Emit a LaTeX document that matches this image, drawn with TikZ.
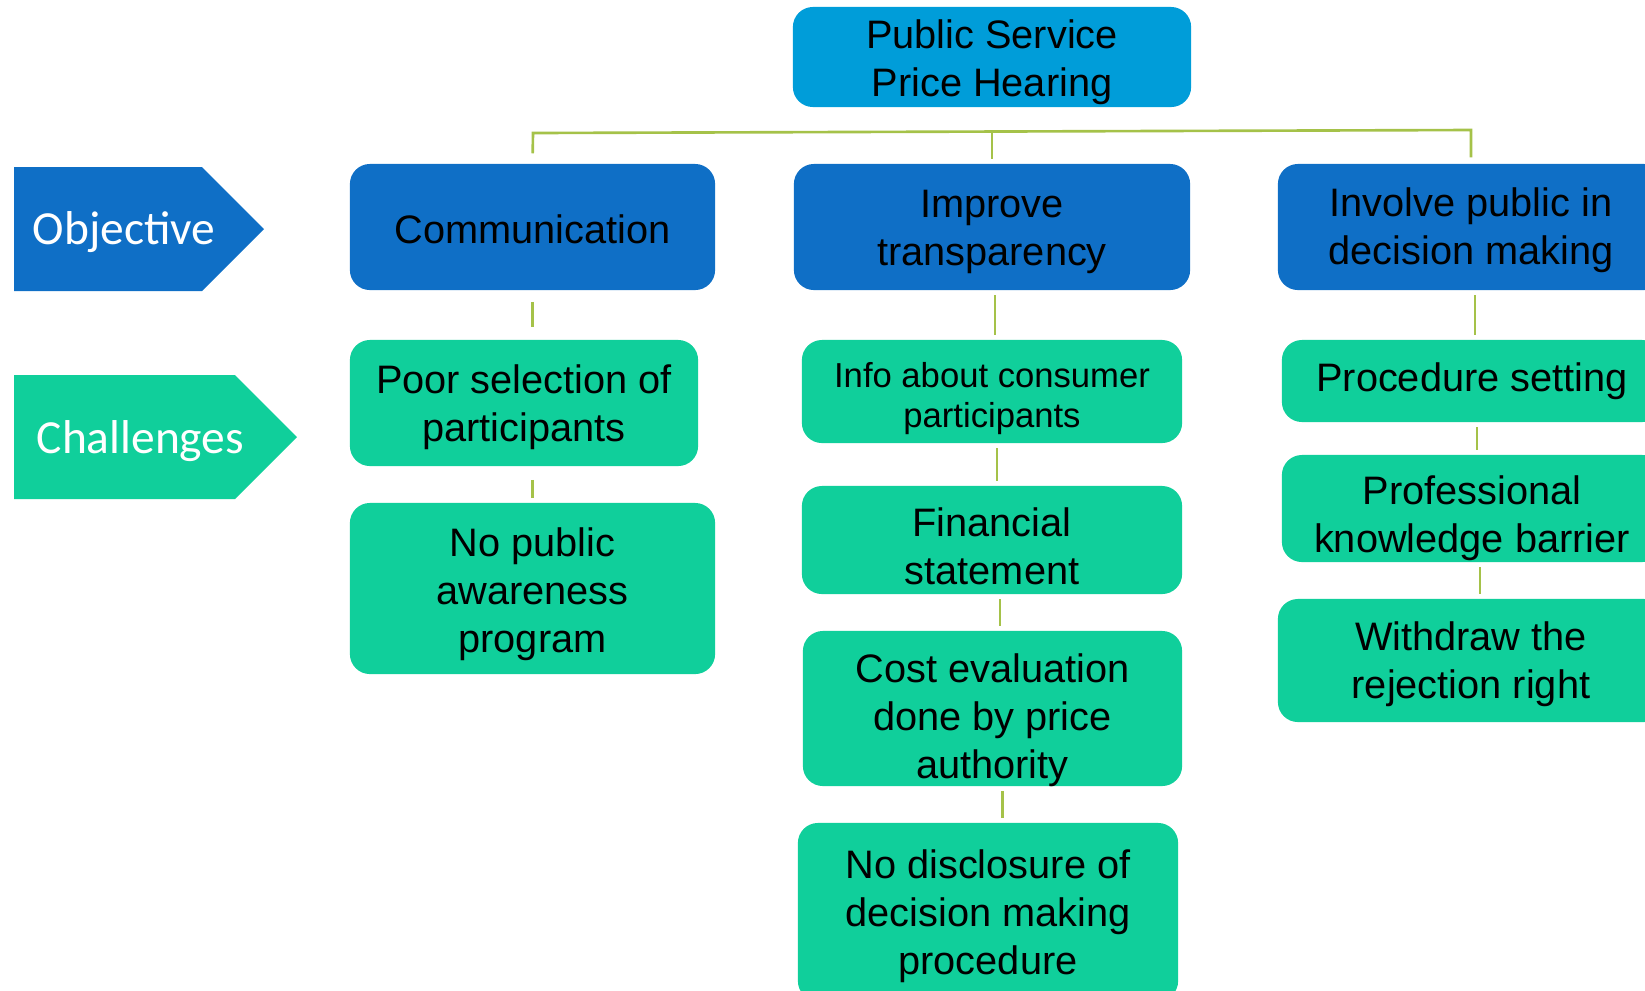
\documentclass[tikz,border=0pt]{standalone}
\usepackage{fontspec}
\setmainfont{Liberation Sans}
\newfontfamily\calibfont{Carlito}
\definecolor{objblue}{HTML}{0F6FC6}
\definecolor{topblue}{HTML}{009DD9}
\definecolor{chgreen}{HTML}{10CF9B}
\definecolor{linkgreen}{HTML}{A5C249}
\tikzset{
  box/.style={rounded corners=0.2cm, inner sep=0pt},
  goalbox/.style={box, fill=objblue},
  issuebox/.style={box, fill=chgreen},
  dim/.style 2 args={minimum width=#1cm, minimum height=#2cm},
  lbl/.style={align=center, text=black, inner sep=0pt, font=\fontsize{11.3}{13.6}\selectfont},
  txt/.style 2 args={label={[lbl, yshift=-#1cm]center:#2}},
  link/.style={draw=linkgreen, line width=0.75pt, shorten <=0.045cm, shorten >=0.045cm},
  tag/.style={text=white, font=\calibfont\fontsize{13.5}{16}\selectfont, anchor=base west, inner sep=0pt}
}
\begin{document}
\begin{tikzpicture}[x=0.01cm, y=-0.01cm]
    \clip (0,0) rectangle (1645,990);
    % row labels
    \fill[objblue] (14,167) -- (202,167) -- (264,229) -- (202,291) -- (14,291) -- cycle;
    \node[tag] (obj) at (32,244) {Objective};
    \fill[chgreen] (14,375) -- (235,375) -- (297,437) -- (235,499) -- (14,499) -- cycle;
    \node[tag] (chal) at (36,453) {Challenges};
    % title
    \node[box, fill=topblue, dim={3.98}{1.00}, txt={0.05}{Public Service\\Price Hearing}] (top) at (992,57) {};
    % objectives
    \node[goalbox, dim={3.65}{1.26}, txt={0.02}{Communication}] (comm) at (532.5,227) {};
    \node[goalbox, dim={3.96}{1.26}, txt={0.05}{Improve\\transparency}] (impr) at (992,227) {};
    \node[goalbox, dim={3.86}{1.26}, txt={0.03}{Involve public in\\decision making}] (invo) at (1471,227) {};
    % challenges
    \node[issuebox, dim={3.48}{1.26}, txt={0.04}{Poor selection of\\participants}] (poor) at (524,403) {};
    \node[issuebox, dim={3.65}{1.71}, txt={0.06}{No public\\awareness\\program}] (nopub) at (532.5,588.5) {};
    \node[issuebox, dim={3.80}{1.03}, label={[lbl, font=\fontsize{9.85}{11.6}\selectfont, yshift=-0.07cm]center:Info about consumer\\participants}] (info) at (992,391.5) {};
    \node[issuebox, dim={3.80}{1.08}, txt={0.06}{Financial\\statement}] (fin) at (992,540) {};
    \node[issuebox, dim={3.79}{1.55}, txt={0.12}{Cost evaluation\\done by price\\authority}] (cost) at (992.5,708.5) {};
    \node[issuebox, dim={3.80}{1.78}, txt={0.04}{No disclosure of\\decision making\\procedure}] (nodis) at (988,912) {};
    \node[issuebox, dim={3.80}{0.82}, txt={0.00}{Procedure setting}] (proc) at (1472,381) {};
    \node[issuebox, dim={3.80}{1.07}, txt={0.10}{Professional\\knowledge barrier}] (prof) at (1472,508.5) {};
    \node[issuebox, dim={3.86}{1.23}, txt={0.04}{Withdraw the\\rejection right}] (with) at (1471,660.5) {};
    % connectors
    \coordinate (barW) at (533,133);
    \coordinate (barM) at (992,130);
    \coordinate (barE) at (1471,130);
    \draw[link, shorten <=0.10cm, shorten >=0.06cm] (comm.north) -- (barW) -- (barE) -- (invo.north);
    \draw[link, shorten <=0pt] (barM) -- (impr.north);
    \draw[link, shorten <=0.11cm, shorten >=0.12cm] (comm.south) -- (comm.south |- poor.north);
    \draw[link, shorten <=0.13cm, shorten >=0.04cm] (comm.south |- poor.south) -- (comm.south |- nopub.north);
    \foreach \up/\dn/\dx in {impr/info/3, info/fin/5, fin/cost/8, cost/nodis/10, invo/proc/4, proc/prof/5, prof/with/8}
      \draw[link] ([xshift=\dx*0.01cm]\up.south) -- ([xshift=\dx*0.01cm]\up.south |- \dn.north);
\end{tikzpicture}
\end{document}
